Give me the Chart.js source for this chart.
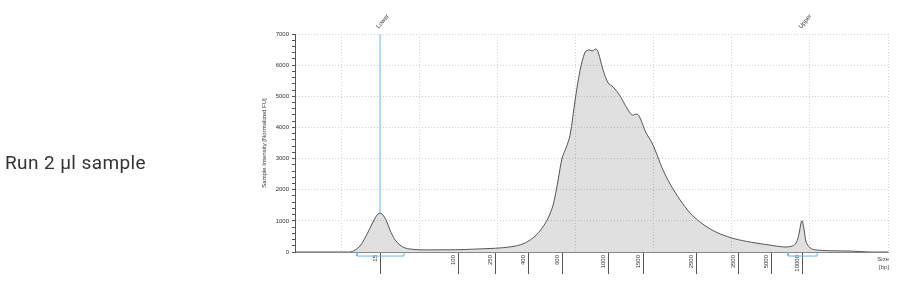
<!DOCTYPE html>
<html>
<head>
<meta charset="utf-8">
<script src="https://cdn.jsdelivr.net/npm/chart.js@4.4.1/dist/chart.umd.min.js"></script>
<style>
  body { margin: 0; background: #fff; }
  #wrap { position: relative; width: 899px; height: 287px; }
  #label {
    position: absolute; left: 5px; top: 151px;
    font-family: Roboto, sans-serif; font-size: 19px; letter-spacing: 0.4px; color: #333;
  }
</style>
</head>
<body>
<div id="wrap">
  <div id="label">Run 2 µl sample</div>
  <canvas id="chart"></canvas>
</div>
<script>
// migration time (s) and fluorescence
const timeSec = [24, 30, 31.05, 31.69, 32.33, 32.97, 33.62, 34.26, 34.64, 34.9, 35.15, 35.67, 36.18, 36.82,
  37.46, 38.1, 38.74, 40.03, 42.59, 45.15, 47.72, 50.28, 52.21, 53.49, 54.77, 55.67, 56.44, 57.08,
  57.72, 58.23, 58.74, 59.26, 59.9, 60.54, 61.18, 61.69, 62.08, 62.59, 62.85, 63.49, 64.13, 64.77,
  65.67, 66.44, 67.21, 67.85, 68.23, 69.0, 69.64, 70.15, 71.05, 72.08, 73.36, 74.64, 75.92, 77.21,
  78.49, 80.41, 82.33, 84.9, 86.82, 87.72, 88.23, 88.62, 88.87, 89.0, 89.26, 89.51, 90.03, 90.67,
  92.59, 95.15, 97.72, 100];
const intensity = [0, 0, 0, 60, 190, 450, 770, 1090, 1220, 1250, 1220, 1030, 700, 390,
  220, 130, 95, 70, 70, 75, 100, 130, 190, 290, 510, 770, 1090, 1510,
  2310, 3020, 3340, 3760, 4880, 5840, 6420, 6490, 6460, 6520, 6420, 5840, 5430, 5300,
  5010, 4660, 4400, 4430, 4300, 3820, 3560, 3280, 2700, 2180, 1670, 1250, 960, 740,
  580, 420, 320, 220, 160, 190, 290, 610, 960, 1000, 700, 320, 130, 70,
  40, 30, 0, 0];

// ladder sizes and where they sit on the time axis
const ladderBp = ['15', '100', '250', '400', '600', '1000', '1500', '2500', '3500', '5000', '10000'];
const ladderTime = [34.9, 44.9, 49.68, 53.87, 58.32, 64.17, 68.7, 75.5, 80.83, 85.11, 89.04];

// markers and their integration ranges
const markerNames = ['Lower', 'Upper'];
const markerTime = [34.9, 89.04];
const markerRanges = [[31.95, 37.97], [87.21, 90.92]];
const rangeDepth = -130;

const blue = '#6fb1e6';
const gridCol = '#d2d2d2';

const curve = timeSec.map((t, i) => ({ x: t, y: intensity[i] }));

const markerSets = markerTime.map(t => {
  const peak = intensity[timeSec.indexOf(t)];
  return {
    data: [{ x: t, y: peak }, { x: t, y: 7000 }],
    borderColor: blue, borderWidth: 1, pointRadius: 0, fill: false, order: 2
  };
});
const rangeSets = markerRanges.map(r => ({
  data: [{ x: r[0], y: 0 }, { x: r[0], y: rangeDepth }, { x: r[1], y: rangeDepth }, { x: r[1], y: 0 }],
  borderColor: blue, borderWidth: 1, pointRadius: 0, fill: false, clip: false, order: 0
}));

const sizeLabel = {
  id: 'sizeLabel',
  afterDraw(chart) {
    const ctx = chart.ctx;
    const right = chart.chartArea.right;
    const bottom = chart.chartArea.bottom;
    ctx.save();
    ctx.font = '6px "Liberation Sans", sans-serif';
    ctx.fillStyle = '#444';
    ctx.textAlign = 'right';
    ctx.textBaseline = 'middle';
    ctx.fillText('Size', right + 1, bottom + 7);
    ctx.fillText('[bp]', right + 1, bottom + 15);
    ctx.restore();
  }
};

const tickFont = { family: '"Liberation Sans", Arial, sans-serif', size: 6 };

new Chart(document.getElementById('chart'), {
  type: 'line',
  data: {
    datasets: [
      ...rangeSets,
      {
        data: curve,
        borderColor: '#555',
        borderWidth: 1,
        backgroundColor: 'rgba(0,0,0,0.12)',
        fill: 'origin',
        pointRadius: 0,
        tension: 0.3,
        order: 1
      },
      ...markerSets
    ]
  },
  options: {
    responsive: true,
    maintainAspectRatio: false,
    animation: false,
    layout: { padding: { left: 261, right: 11, top: 0, bottom: 0 } },
    plugins: { legend: { display: false }, tooltip: { enabled: false } },
    scales: {
      x: {
        type: 'linear', position: 'bottom', weight: 0,
        min: 24, max: 100,
        afterFit: s => { s.height = 0; },
        ticks: { display: false, stepSize: 10, includeBounds: false },
        grid: { color: gridCol, drawTicks: false },
        border: { color: '#888', dash: [1, 2] }
      },
      bp: {
        type: 'linear', position: 'bottom', weight: 1,
        min: 24, max: 100,
        afterFit: s => { s.height = 35; },
        afterBuildTicks: s => { s.ticks = ladderTime.map(v => ({ value: v })); },
        ticks: {
          autoSkip: false, minRotation: 90, maxRotation: 90,
          callback: (v, i) => ladderBp[i],
          font: tickFont, color: '#333', padding: -19, labelOffset: -5
        },
        grid: { drawOnChartArea: false, tickLength: 22, color: '#555' },
        border: { display: false }
      },
      mk: {
        type: 'linear', position: 'top',
        min: 24, max: 100,
        afterFit: s => { s.height = 34; },
        afterBuildTicks: s => { s.ticks = markerTime.map(v => ({ value: v })); },
        ticks: {
          autoSkip: false, minRotation: 50, maxRotation: 50,
          callback: (v, i) => markerNames[i],
          font: tickFont, color: '#333', padding: -4, labelOffset: 3
        },
        grid: { display: false },
        border: { display: false }
      },
      y: {
        min: 0, max: 7000,
        afterFit: s => { s.width = 34; },
        title: {
          display: true, text: 'Sample Intensity [Normalized FU]',
          font: { family: '"Liberation Sans", Arial, sans-serif', size: 6 }, color: '#333', padding: 0
        },
        ticks: {
          stepSize: 200, autoSkip: false,
          callback: v => (v % 1000 === 0 ? v : ''),
          font: tickFont, color: '#333', padding: 3
        },
        grid: {
          color: c => (c.tick && c.tick.value % 1000 === 0 ? gridCol : 'rgba(0,0,0,0)'),
          tickColor: '#555', tickLength: 3, tickBorderDash: []
        },
        border: { color: '#555', dash: [1, 2] }
      }
    }
  },
  plugins: [sizeLabel]
});
</script>
</body>
</html>
